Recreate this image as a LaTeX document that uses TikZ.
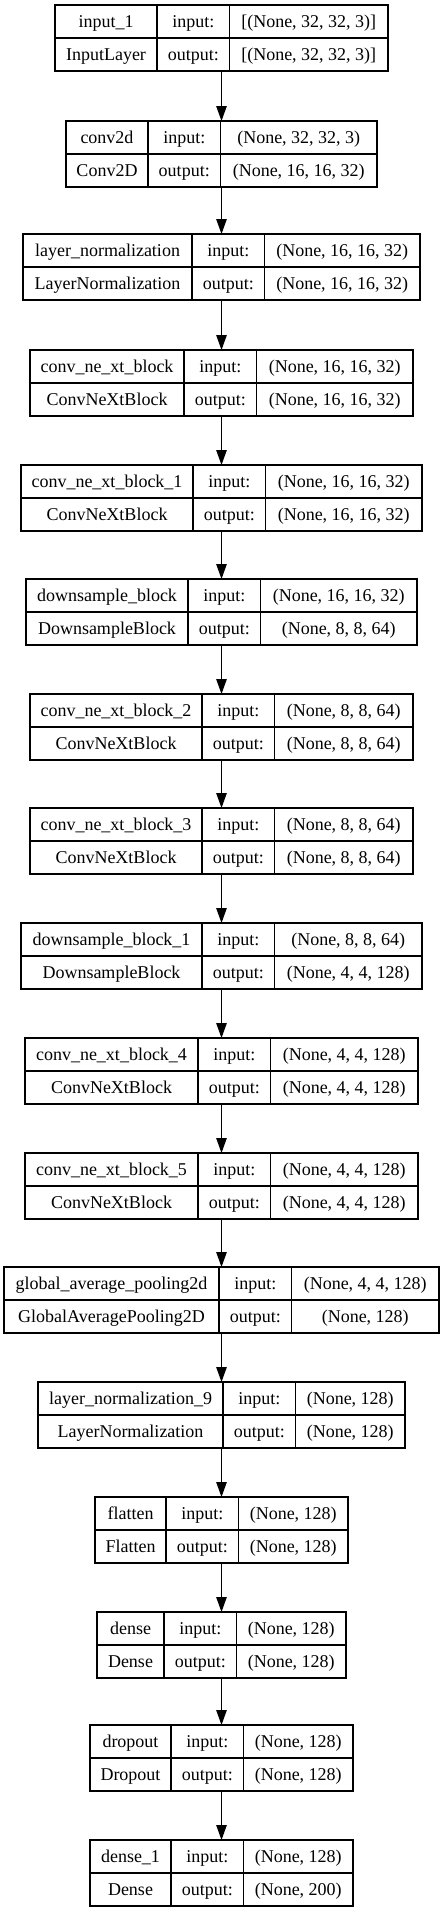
\documentclass[tikz,border=0pt]{standalone}
\usepackage{fontspec}
\setmainfont{Liberation Serif}
\usetikzlibrary{arrows.meta}
\tikzset{
  cell/.style={draw, line width=1.1pt, inner sep=0pt, outer sep=0pt, minimum height=33pt,
    text height=16pt, text depth=4pt, font=\fontsize{18}{21}\selectfont, anchor=north west},
  box/.style={inner sep=0pt, outer sep=0pt, minimum height=66pt, anchor=north west},
  flow/.style={line width=1.1pt, -{Triangle[length=15pt,width=10.5pt]}}
}
% id, top, left, split, right, name, class, input, output
\newcommand{\layerbox}[9]{
  \node[box, minimum width={(#5-#3)*1pt}] (#1) at (#3,#2) {};
  \node[cell, minimum width={(#4-#3)*1pt}] (#1-name) at (#1.north west) {#6};
  \node[cell, minimum width={(#4-#3)*1pt}] (#1-class) at (#1-name.south west) {#7};
  \node[cell, minimum width=72.5pt] (#1-inlbl) at (#1-name.north east) {input:};
  \node[cell, minimum width=72.5pt] (#1-outlbl) at (#1-inlbl.south west) {output:};
  \node[cell, minimum width={(#5-#4-72.5)*1pt}] (#1-in) at (#1-inlbl.north east) {#8};
  \node[cell, minimum width={(#5-#4-72.5)*1pt}] (#1-out) at (#1-in.south west) {#9};
}

\begin{document}
\begin{tikzpicture}[x=1pt,y=-1pt]
\useasboundingbox (0,0) rectangle (444,1912);
\layerbox{inp}{5}{55}{157}{388}{input\_1}{InputLayer}{[(None, 32, 32, 3)]}{[(None, 32, 32, 3)]}
\layerbox{conv}{121}{66}{148}{377}{conv2d}{Conv2D}{(None, 32, 32, 3)}{(None, 16, 16, 32)}
\layerbox{ln}{234}{23}{192}{420}{layer\_normalization}{LayerNormalization}{(None, 16, 16, 32)}{(None, 16, 16, 32)}
\layerbox{blk}{350}{30}{184}{413}{conv\_ne\_xt\_block}{ConvNeXtBlock}{(None, 16, 16, 32)}{(None, 16, 16, 32)}
\layerbox{blkA}{465}{21}{193}{422}{conv\_ne\_xt\_block\_1}{ConvNeXtBlock}{(None, 16, 16, 32)}{(None, 16, 16, 32)}
\layerbox{down}{579}{26}{188}{417}{downsample\_block}{DownsampleBlock}{(None, 16, 16, 32)}{(None, 8, 8, 64)}
\layerbox{blkB}{694}{30}{202}{413}{conv\_ne\_xt\_block\_2}{ConvNeXtBlock}{(None, 8, 8, 64)}{(None, 8, 8, 64)}
\layerbox{blkC}{808}{30}{202}{413}{conv\_ne\_xt\_block\_3}{ConvNeXtBlock}{(None, 8, 8, 64)}{(None, 8, 8, 64)}
\layerbox{downA}{923}{21}{202}{422}{downsample\_block\_1}{DownsampleBlock}{(None, 8, 8, 64)}{(None, 4, 4, 128)}
\layerbox{blkD}{1038}{25}{198}{418}{conv\_ne\_xt\_block\_4}{ConvNeXtBlock}{(None, 4, 4, 128)}{(None, 4, 4, 128)}
\layerbox{blkE}{1153}{25}{198}{418}{conv\_ne\_xt\_block\_5}{ConvNeXtBlock}{(None, 4, 4, 128)}{(None, 4, 4, 128)}
\layerbox{gap}{1267}{4}{219}{439}{global\_average\_pooling2d}{GlobalAveragePooling2D}{(None, 4, 4, 128)}{(None, 128)}
\layerbox{lnA}{1382}{38}{223}{405}{layer\_normalization\_9}{LayerNormalization}{(None, 128)}{(None, 128)}
\layerbox{flat}{1497}{95}{166}{348}{flatten}{Flatten}{(None, 128)}{(None, 128)}
\layerbox{dense}{1612}{97}{164}{346}{dense}{Dense}{(None, 128)}{(None, 128)}
\layerbox{drop}{1725}{90}{171}{353}{dropout}{Dropout}{(None, 128)}{(None, 128)}
\layerbox{denseA}{1840}{90}{171}{353}{dense\_1}{Dense}{(None, 128)}{(None, 200)}
% connectors
\foreach \a/\b in {inp/conv, conv/ln, ln/blk, blk/blkA, blkA/down, down/blkB, blkB/blkC, blkC/downA,
  downA/blkD, blkD/blkE, blkE/gap, gap/lnA, lnA/flat, flat/dense, dense/drop, drop/denseA}
  \draw[flow] (\a.south) -- (\a.south |- \b.north);
\end{tikzpicture}
\end{document}
